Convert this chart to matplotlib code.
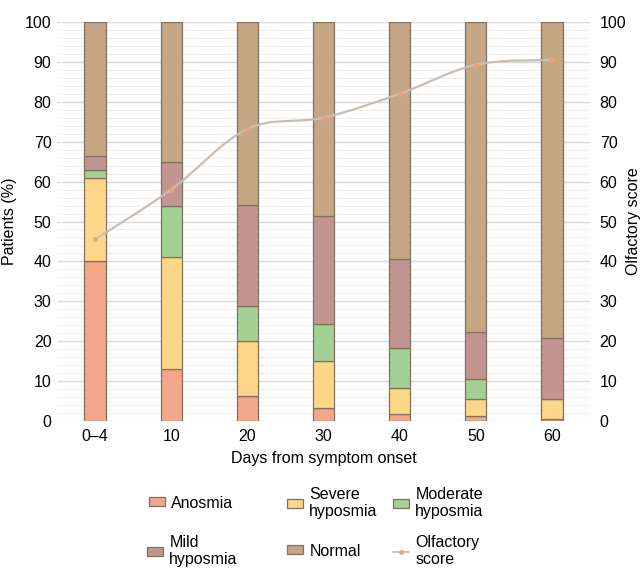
import numpy as np
import matplotlib
matplotlib.use("Agg")
import matplotlib.pyplot as plt
from matplotlib.path import Path
from matplotlib.patches import PathPatch
from matplotlib.lines import Line2D

plt.rcParams['font.family'] = ['Liberation Sans', 'DejaVu Sans']

categories = ["0\u20134", "10", "20", "30", "40", "50", "60"]
anosmia = [40.0, 13.0, 6.3, 3.3, 1.8, 1.2, 0.6]
severe = [21.0, 28.0, 13.8, 11.8, 6.5, 4.4, 5.0]
moderate = [2.0, 13.0, 8.6, 9.3, 10.1, 5.0, 0.0]
mild = [3.5, 11.0, 25.5, 27.0, 22.1, 11.7, 15.2]
normal = [33.5, 35.0, 45.8, 48.6, 59.5, 77.7, 79.2]
olfactory = [45.5, 58.0, 73.2, 76.0, 82.0, 89.3, 90.5]

series = [("Anosmia", anosmia, "#f3a689"),
          ("Severe\nhyposmia", severe, "#fdd687"),
          ("Moderate\nhyposmia", moderate, "#a3d193"),
          ("Mild\nhyposmia", mild, "#c39590"),
          ("Normal", normal, "#c4a684")]

FS = 11.5
fig = plt.figure(figsize=(6.41, 5.71), dpi=100)
ax = fig.add_axes([57/641, 1-421/571, 533/641, 399/571])
x = np.arange(len(categories))

bottom = np.zeros(len(categories))
handles = {}
for name, vals, col in series:
    v = np.array(vals)
    bars = ax.bar(x, v, 0.28, bottom=bottom, color=col, edgecolor="#7f7060",
                  linewidth=0.9, zorder=3)
    handles[name] = bars
    bottom += v

ax.set_xlim(-0.5, 6.5)
ax.set_ylim(0, 100)
ax.set_yticks(np.arange(0, 101, 10))
ax.set_yticks(np.arange(0, 101, 2), minor=True)
ax.grid(axis='y', which='major', color='#d9d9d9', linewidth=1.0, zorder=0)
ax.grid(axis='y', which='minor', color='#eeeeee', linewidth=0.8, zorder=0)
ax.set_xticks(x)
ax.set_xticklabels(categories)
ax.tick_params(axis='both', which='both', length=0, labelsize=FS, pad=4)
ax.tick_params(axis='x', pad=6)
for s in ax.spines.values():
    s.set_visible(False)
ax.set_ylabel("Patients (%)", fontsize=FS)
ax.yaxis.set_label_coords(-40/533, 0.5)
ax.set_xlabel("Days from symptom onset", fontsize=FS, labelpad=5)

ax2 = ax.twinx()
ax2.set_ylim(0, 100)
ax2.set_yticks(np.arange(0, 101, 10))
ax2.tick_params(axis='y', which='both', length=0, labelsize=FS, pad=7)
for s in ax2.spines.values():
    s.set_visible(False)
ax2.set_ylabel("Olfactory score", fontsize=FS)
ax2.yaxis.set_label_coords((626 - 57)/533, 0.5)

# smooth line (Catmull-Rom -> cubic Bezier) through data points
px = x.astype(float)
py = np.array(olfactory, dtype=float)
verts = [(px[0], py[0])]
codes = [Path.MOVETO]
n = len(px)
for i in range(n - 1):
    p0 = (px[max(i-1, 0)], py[max(i-1, 0)])
    p1 = (px[i], py[i])
    p2 = (px[i+1], py[i+1])
    p3 = (px[min(i+2, n-1)], py[min(i+2, n-1)])
    c1 = (p1[0] + (p2[0]-p0[0])/6, p1[1] + (p2[1]-p0[1])/6)
    c2 = (p2[0] - (p3[0]-p1[0])/6, p2[1] - (p3[1]-p1[1])/6)
    verts += [c1, c2, p2]
    codes += [Path.CURVE4]*3
ax2.add_patch(PathPatch(Path(verts, codes), facecolor='none',
                        edgecolor='#c9beb4', linewidth=1.6, zorder=4))
ax2.plot(px, py, linestyle='none', marker='o', markersize=2.5,
         color='#e9a27a', zorder=5)

line_handle = Line2D([0], [0], color='#c9beb4', linewidth=1.3, marker='o',
                     markersize=2.5, markerfacecolor='#e9a27a',
                     markeredgecolor='#e9a27a')

def add_leg(h, label, xpos, ypos):
    leg = fig.legend([h], [label], loc='center left',
                     bbox_to_anchor=(xpos/641, 1-ypos/571),
                     frameon=False, fontsize=FS, handlelength=1.0,
                     handleheight=0.5, handletextpad=0.4,
                     borderaxespad=0, borderpad=0, labelspacing=0)
    return leg

add_leg(handles["Anosmia"], "Anosmia", 149, 503)
add_leg(handles["Severe\nhyposmia"], "Severe\nhyposmia", 287, 503)
add_leg(handles["Moderate\nhyposmia"], "Moderate\nhyposmia", 393, 503)
add_leg(handles["Mild\nhyposmia"], "Mild\nhyposmia", 147, 551)
add_leg(handles["Normal"], "Normal", 287, 551)
add_leg(line_handle, "Olfactory\nscore", 393, 551)

fig.savefig("out.png", dpi=100)
